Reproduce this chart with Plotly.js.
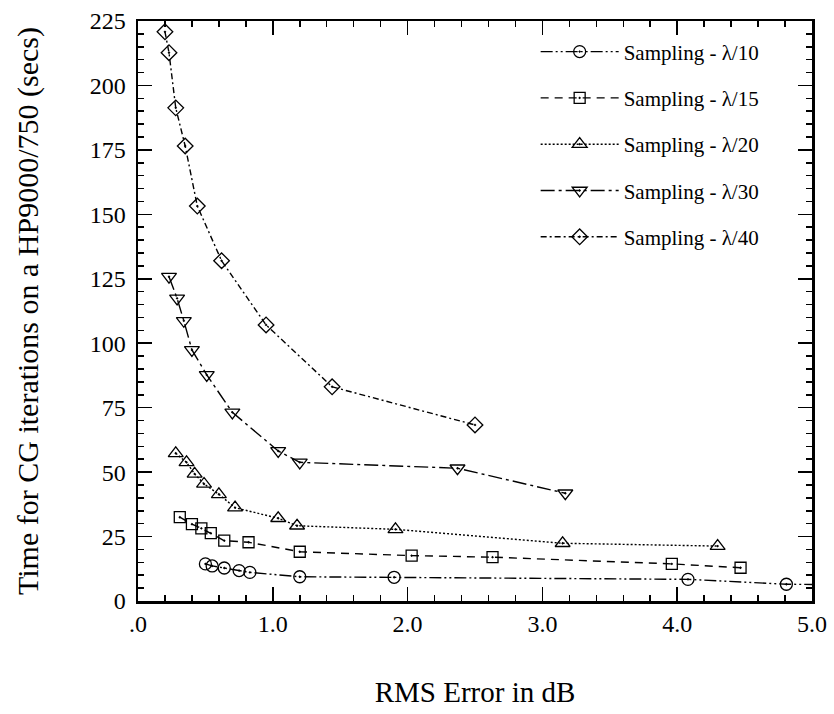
<!DOCTYPE html>
<html>
<head>
<meta charset="utf-8">
<script src="https://cdn.plot.ly/plotly-3.0.1.min.js"></script>
<style>html,body{margin:0;padding:0;background:#fff;}#chart{width:834px;height:714px;}</style>
</head>
<body>
<div id="chart"></div>
<script>
// RMS error (dB) vs time (secs) for each sampling density
const seriesNames = ["Sampling - λ/10", "Sampling - λ/15", "Sampling - λ/20", "Sampling - λ/30", "Sampling - λ/40"];

const x10 = [0.50, 0.55, 0.64, 0.75, 0.83, 1.20, 1.90, 4.08, 4.81, 5.20];
const y10 = [14.4, 13.6, 12.8, 11.8, 11.1, 9.4, 9.2, 8.4, 6.5, 6.3];

const x15 = [0.31, 0.40, 0.47, 0.54, 0.64, 0.82, 1.20, 2.03, 2.63, 3.96, 4.47];
const y15 = [32.5, 29.8, 28.2, 26.3, 23.4, 22.8, 19.1, 17.6, 17.0, 14.4, 12.9];

const x20 = [0.28, 0.36, 0.42, 0.49, 0.60, 0.72, 1.04, 1.18, 1.91, 3.15, 4.30];
const y20 = [57.3, 53.8, 49.3, 45.4, 41.4, 36.2, 32.1, 29.2, 27.8, 22.4, 21.3];

const x30 = [0.23, 0.29, 0.34, 0.40, 0.51, 0.70, 1.04, 1.20, 2.37, 3.17];
const y30 = [125.8, 117.4, 108.7, 97.4, 87.7, 73.2, 58.2, 53.8, 51.5, 41.8];

const x40 = [0.20, 0.23, 0.28, 0.35, 0.44, 0.62, 0.95, 1.44, 2.50];
const y40 = [220.8, 212.7, 191.3, 176.5, 153.2, 132.0, 107.1, 83.1, 68.3];

const xTickVals = [0, 1, 2, 3, 4, 5];
const xTickText = [".0", "1.0", "2.0", "3.0", "4.0", "5.0"];
const yTickVals = [0, 25, 50, 75, 100, 125, 150, 175, 200, 225];

const FONT = "Liberation Serif";

const xs = [x10, x15, x20, x30, x40];
const ys = [y10, y15, y20, y30, y40];
const symbols = ["circle-open-dot", "square-open-dot", "triangle-up-open-dot", "triangle-down-open-dot", "diamond-open-dot"];
const sizes = [12, 11, 13, 13, 12];
const dashes = ["12px,3px,2px,3px,2px,3px", "8px,6px", "2px,2px", "14px,4px,3px,4px", "6px,3px,2px,3px"];

const traces = seriesNames.map((name, i) => ({
  type: "scatter",
  mode: "lines+markers",
  name: name,
  legendgroup: "g" + i,
  x: xs[i],
  y: ys[i],
  line: {color: "#000", width: 1.4, dash: dashes[i]},
  marker: {symbol: symbols[i], size: sizes[i], color: "#000", line: {color: "#000", width: 1.3}},
  cliponaxis: true
}));

const layout = {
  width: 834,
  height: 714,
  paper_bgcolor: "#fff",
  plot_bgcolor: "#fff",
  margin: {l: 138, r: 22, t: 21, b: 113},
  font: {family: FONT, color: "#000", size: 24},
  showlegend: true,
  legend: {
    x: 0.59, y: 0.982, xanchor: "left", yanchor: "top",
    bgcolor: "rgba(0,0,0,0)",
    font: {family: FONT, size: 21, color: "#000"},
    itemwidth: 78,
    traceorder: "grouped",
    tracegroupgap: 16
  },
  xaxis: {
    range: [0, 5],
    tickvals: xTickVals,
    ticktext: xTickText,
    ticks: "inside",
    ticklen: 14,
    tickwidth: 1.5,
    tickcolor: "#000",
    showline: true,
    linecolor: "#000",
    linewidth: 2.5,
    mirror: "allticks",
    showgrid: false,
    zeroline: false,
    tickfont: {family: FONT, size: 24, color: "#000"},
    minor: {dtick: 0.2, ticks: "inside", ticklen: 6, tickwidth: 1.5, tickcolor: "#000", showgrid: false},
    title: {text: "RMS Error in dB", font: {family: FONT, size: 29, color: "#000"}, standoff: 46}
  },
  yaxis: {
    range: [0, 225],
    tickvals: yTickVals,
    ticks: "inside",
    ticklen: 14,
    tickwidth: 1.5,
    tickcolor: "#000",
    showline: true,
    linecolor: "#000",
    linewidth: 2.5,
    mirror: "allticks",
    showgrid: false,
    zeroline: false,
    ticklabelstandoff: 5,
    tickfont: {family: FONT, size: 24, color: "#000"},
    minor: {dtick: 5, ticks: "inside", ticklen: 6, tickwidth: 1.5, tickcolor: "#000", showgrid: false},
    title: {text: "Time for CG iterations on a HP9000/750 (secs)", font: {family: FONT, size: 30, color: "#000"}, standoff: 42}
  }
};

Plotly.newPlot("chart", traces, layout, {displayModeBar: false, staticPlot: true});
</script>
</body>
</html>
